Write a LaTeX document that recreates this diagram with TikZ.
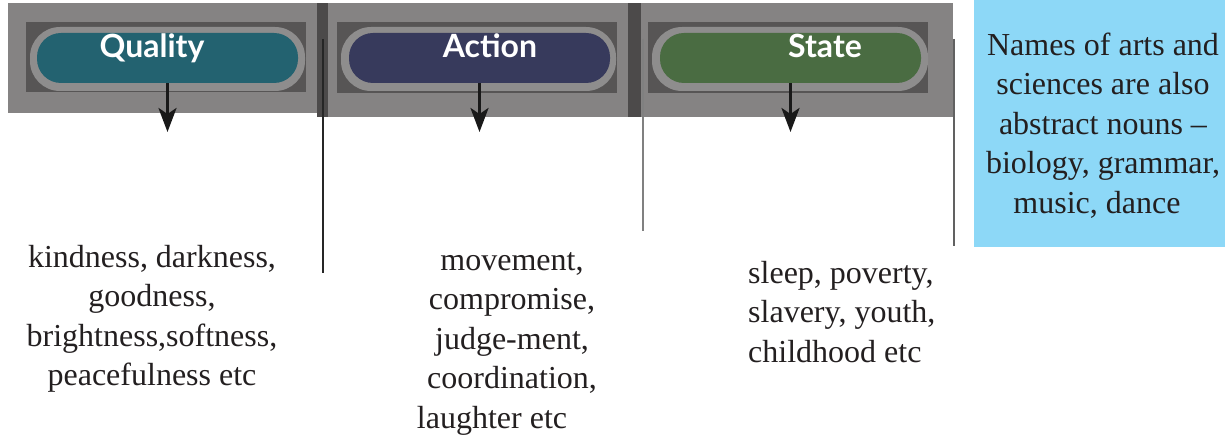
\documentclass[tikz,border=0pt]{standalone}
\usepackage{fontspec}
\newfontfamily\bodyserif{Liberation Serif}
\newfontfamily\headfont{Lato}
\usetikzlibrary{arrows.meta}
\definecolor{panelgray}{HTML}{858383}
\definecolor{stripgray}{HTML}{4C4A4A}
\definecolor{wellgray}{HTML}{575555}
\definecolor{ringgray}{HTML}{8E8D8D}
\definecolor{qteal}{HTML}{236270}
\definecolor{anavy}{HTML}{373A5C}
\definecolor{sgreen}{HTML}{4A6C42}
\definecolor{notesky}{HTML}{8DD8F7}
\definecolor{ink}{HTML}{231F20}
\begin{document}
\begin{tikzpicture}[x=1pt,y=-1pt,
  pill/.style={rounded corners=24pt, minimum width=261pt, minimum height=50pt, inner sep=0pt},
  headtext/.style={anchor=base, text=white, inner sep=0pt, font=\headfont\bfseries\fontsize{32}{38}\selectfont},
  bodytext/.style={anchor=north, inner sep=0pt, text=ink, font=\bodyserif\fontsize{32}{39.5}\selectfont},
  pointer/.style={draw=black!90, line width=3pt, -{Stealth[length=24pt, width=18pt, inset=6pt]}},
  divider/.style={line width=1.3pt}]
\useasboundingbox (0,0) rectangle (1225,446);

% header panels and their dark separator strips
\fill[panelgray] (8,3) rectangle (317,113);
\fill[stripgray] (317,3) rectangle (328,117);
\fill[panelgray] (328,3) rectangle (628,117);
\fill[stripgray] (628,3) rectangle (641,117);
\fill[panelgray] (641,3) rectangle (953,117);

% recessed wells behind the pills
\fill[wellgray] (26,22) rectangle (306,92);
\fill[wellgray] (337,22) rectangle (617,93);
\fill[wellgray] (648,22) rectangle (928,93);

% light rims of the pills
\fill[ringgray, rounded corners=30pt] (30,27) rectangle (305,91);
\fill[ringgray, rounded corners=30pt] (341,27) rectangle (616,91);
\fill[ringgray, rounded corners=30pt] (652,27) rectangle (928,91);

% coloured pills
\node[pill, fill=qteal] (qpill) at (167.5,58) {};
\node[pill, fill=anavy] (apill) at (479.5,58) {};
\node[pill, fill=sgreen] (spill) at (790.5,58) {};

\node[headtext] (qlabel) at (152,58) {Quality};
\node[headtext] (alabel) at (490,58) {Action};
\node[headtext] (slabel) at (825,58) {State};

% arrows out of the pills
\coordinate (qend) at (167.5,132);
\coordinate (aend) at (479.5,132);
\coordinate (send) at (790.5,132);
\draw[pointer] (qpill.south) -- (qend);
\draw[pointer] (apill.south) -- (aend);
\draw[pointer] (spill.south) -- (send);

% thin column dividers
\draw[divider, draw=black!85] (323,39) -- (323,273);
\draw[divider, draw=black!50] (643,39) -- (643,231);
\draw[divider, draw=black!62] (954,39) -- (954,246);

% examples under each heading
\node[bodytext, align=center] (qtext) at (152,239.5)
  {\strut kindness, darkness,\\ goodness,\\ brightness,softness,\\ peacefulness etc};
\node[bodytext, align=center] (atext) at (512,242.5)
  {\strut movement,\\ compromise,\\ judge-ment,\\ coordination,\\ laughter etc\hspace*{40pt}};
\node[bodytext, align=left, anchor=north west] (stext) at (748,255.5)
  {\strut sleep, poverty,\\ slavery, youth,\\ childhood etc};

% side note
\fill[notesky] (974,0) rectangle (1225,247);
\node[bodytext, align=center] (note) at (1103,27.5)
  {\strut Names of arts and\\ sciences are also\\ abstract nouns –\\ biology, grammar,\\ music, dance\hspace*{12pt}};
\end{tikzpicture}
\end{document}
